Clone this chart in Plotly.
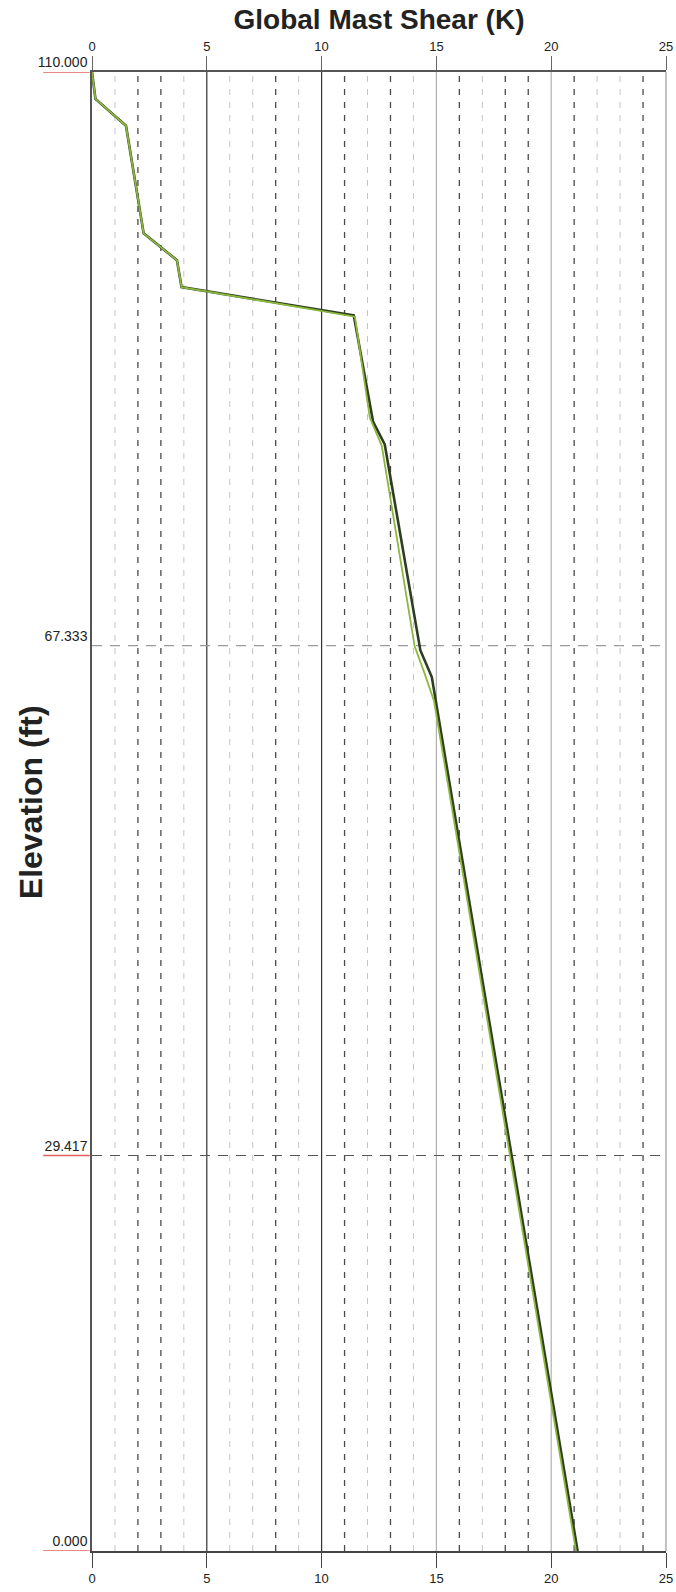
import plotly.graph_objects as go

# ---- data ----
elev_dark = [110.0, 108.0, 106.0, 98.0, 96.0, 94.0, 91.9, 84.0, 82.3, 67.0, 65.0, 0.0]
shear_dark = [0.0, 0.15, 1.48, 2.25, 3.70, 3.90, 11.40, 12.24, 12.75, 14.30, 14.80, 21.15]

elev_green = [110.0, 108.0, 106.0, 98.0, 96.0, 94.0, 91.8, 84.3, 82.2, 67.3, 65.2, 63.2, 0.0]
shear_green = [0.0, 0.15, 1.48, 2.25, 3.70, 3.90, 11.45, 12.10, 12.62, 14.05, 14.50, 14.90, 21.08]

x_ticks = [0, 5, 10, 15, 20, 25]
y_ticks = [0.0, 29.417, 67.333, 110.0]
y_ticktext = ["%.3f" % v for v in y_ticks]
red_marked = [0.0, 29.417, 110.0]

dark_dashed = [2, 3, 8, 11, 13, 16, 18, 19, 21, 24]
light_dashed = [1, 4, 6, 7, 9, 12, 14, 17, 22, 23]
dark_solid = [5, 10]
light_solid = [15, 20]

FONT = "Liberation Sans, Arial, sans-serif"

fig = go.Figure()
fig.add_trace(go.Scatter(x=shear_dark, y=elev_dark, mode="lines",
                         line=dict(color="#2f3d22", width=2.6), hoverinfo="skip", showlegend=False))
fig.add_trace(go.Scatter(x=shear_green, y=elev_green, mode="lines",
                         line=dict(color="#8cb83e", width=1.8), hoverinfo="skip", showlegend=False))
# invisible trace to activate the top axis
fig.add_trace(go.Scatter(x=[0, 25], y=[0, 0], xaxis="x2", mode="markers",
                         marker=dict(opacity=0), hoverinfo="skip", showlegend=False))

shapes = []
for v in light_dashed:
    shapes.append(dict(type="line", xref="x", yref="paper", x0=v, x1=v, y0=0, y1=1,
                       line=dict(color="#c4c4c4", width=1, dash="6px,7px"), layer="below"))
for v in dark_dashed:
    shapes.append(dict(type="line", xref="x", yref="paper", x0=v, x1=v, y0=0, y1=1,
                       line=dict(color="#4a4a4a", width=1.3, dash="6px,7px"), layer="below"))
for v in dark_solid:
    shapes.append(dict(type="line", xref="x", yref="paper", x0=v, x1=v, y0=0, y1=1,
                       line=dict(color="#333333", width=1.2), layer="below"))
for v in light_solid:
    shapes.append(dict(type="line", xref="x", yref="paper", x0=v, x1=v, y0=0, y1=1,
                       line=dict(color="#b0b0b0", width=1.2), layer="below"))
# horizontal dashed reference lines
shapes.append(dict(type="line", xref="paper", yref="y", x0=0, x1=1, y0=y_ticks[2], y1=y_ticks[2],
                   line=dict(color="#9a9a9a", width=1.2, dash="10px,8px"), layer="below"))
shapes.append(dict(type="line", xref="paper", yref="y", x0=0, x1=1, y0=y_ticks[1], y1=y_ticks[1],
                   line=dict(color="#555555", width=1.2, dash="10px,8px"), layer="below"))
# red underlines under elevation labels
for v in red_marked:
    shapes.append(dict(type="line", xref="paper", yref="y", x0=-0.085, x1=-0.004, y0=v, y1=v,
                       line=dict(color="#e06060", width=1.3), layer="above"))
# right border at 25
shapes.append(dict(type="line", xref="paper", yref="paper", x0=1, x1=1, y0=0, y1=1,
                   line=dict(color="#999", width=1.2), layer="below"))

fig.update_layout(
    width=676, height=1592,
    margin=dict(l=92, r=10, t=72, b=41, autoexpand=False),
    paper_bgcolor="white", plot_bgcolor="white",
    font=dict(family=FONT, color="#222"),
    title=dict(text="<b>Global Mast Shear (K)</b>", x=0.5, xref="paper", xanchor="center",
               y=0.988, yanchor="middle", font=dict(size=28, color="#222")),
    shapes=shapes,
    annotations=[dict(text="<b>Elevation (ft)</b>", textangle=-90, xref="paper", yref="paper",
                      x=-0.107, y=0.506, xanchor="center", yanchor="middle", showarrow=False,
                      font=dict(size=32, color="#222"))],
    xaxis=dict(range=[0, 25], tickvals=x_ticks, showgrid=False, zeroline=False, automargin=False,
               showline=True, linecolor="#444", linewidth=1.5, mirror=False,
               ticks="outside", ticklen=15, tickcolor="#444", tickfont=dict(size=13, color="#222")),
    xaxis2=dict(range=[0, 25], tickvals=x_ticks, overlaying="x", side="top", anchor="y",
                automargin=False,
                showgrid=False, zeroline=False, showline=True, linecolor="#555", linewidth=1.5,
                ticks="outside", ticklen=14, tickcolor="#666", tickfont=dict(size=13, color="#222")),
    yaxis=dict(range=[0, 110], tickvals=y_ticks, ticktext=y_ticktext, showgrid=False,
               zeroline=False, showline=True, linecolor="#555", linewidth=1.5, automargin=False,
               ticks="", ticklabelposition="outside top", tickfont=dict(size=14, color="#222")),
)

fig.write_html("out.html", config={"displayModeBar": False},
               post_script="document.body.style.margin='0';document.documentElement.style.overflow='hidden';")
